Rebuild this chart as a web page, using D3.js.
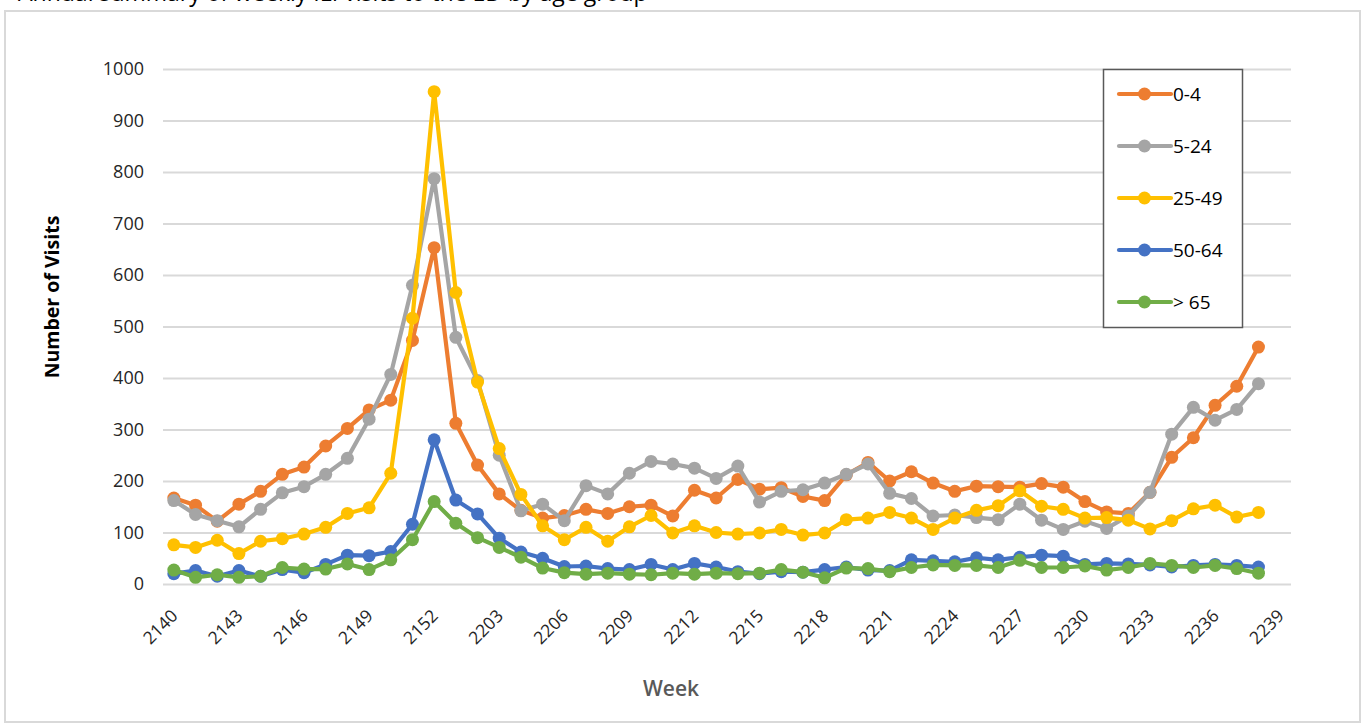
<!DOCTYPE html>
<html>
<head>
<meta charset="utf-8">
<script src="https://cdn.jsdelivr.net/npm/d3@7/dist/d3.min.js"></script>
<style>
  html, body { margin: 0; padding: 0; background: #ffffff; overflow: hidden; }
  svg { display: block; }
</style>
</head>
<body>
<svg id="chart" width="1366" height="725"></svg>
<script>
// ---- data ----
const weeks = [
  "2140","2141","2142","2143","2144","2145","2146","2147","2148","2149","2150","2151","2152",
  "2201","2202","2203","2204","2205","2206","2207","2208","2209","2210","2211","2212","2213",
  "2214","2215","2216","2217","2218","2219","2220","2221","2222","2223","2224","2225","2226",
  "2227","2228","2229","2230","2231","2232","2233","2234","2235","2236","2237","2238","2239"
];
const seriesNames = ["0-4", "5-24", "25-49", "50-64", "> 65"];
const age0_4 = [167,153,122,155,180,213,227,268,302,338,357,473,653,
  312,231,175,143,128,133,145,137,150,153,132,182,167,203,184,187,170,162,212,236,200,218,196,180,190,189,188,195,188,160,140,137,178,246,284,347,384,460];
const age5_24 = [162,135,123,111,145,177,189,213,244,320,407,580,787,
  479,395,250,142,155,123,191,175,215,238,233,225,205,229,159,180,183,196,213,233,176,166,132,134,129,125,155,124,106,122,108,132,178,291,343,318,339,389];
const age25_49 = [76,71,85,59,83,88,97,110,137,148,215,516,956,
  566,392,263,174,113,86,110,83,111,133,99,113,100,97,99,106,95,99,125,128,139,128,106,128,143,152,181,151,145,128,129,124,107,123,146,153,130,139];
const age50_64 = [20,26,15,26,15,28,22,38,56,55,63,116,280,
  163,136,89,62,50,34,35,30,28,38,28,40,33,24,20,24,23,28,33,27,26,47,45,43,51,47,52,56,54,38,40,39,37,33,36,38,36,33];
const age65 = [27,13,18,13,15,32,29,29,39,28,47,86,160,
  118,90,71,52,31,22,19,21,19,18,21,19,21,20,21,28,23,12,31,30,24,32,37,36,36,32,46,32,32,35,27,32,40,36,32,36,30,21];
const yTicks = [0,100,200,300,400,500,600,700,800,900,1000];
const colors = ["#ED7D31", "#A5A5A5", "#FFC000", "#4472C4", "#70AD47"];

const seriesValues = [age0_4, age5_24, age25_49, age50_64, age65];
const series = seriesNames.map((name, k) => ({
  name, color: colors[k],
  points: seriesValues[k].map((v, i) => ({ week: weeks[i], value: v }))
}));

// ---- layout ----
const svg = d3.select("#chart");
const plot = { left: 163, right: 1291, top: 69, bottom: 584 };
const FONT = "'Open Sans', Lato, 'DejaVu Sans', sans-serif";

// outer chart border
svg.append("rect")
  .attr("x", 5).attr("y", 11).attr("width", 1355).attr("height", 711)
  .attr("fill", "#ffffff").attr("stroke", "#d9d9d9").attr("stroke-width", 2);

// title, cut off by the top edge as in the source image
svg.append("text")
  .attr("x", 18).attr("y", 1)
  .attr("font-family", FONT).attr("font-size", 23)
  .attr("fill", "#000000")
  .text("Annual summary of weekly ILI visits to the ED by age group");

const x = d3.scaleBand().domain(weeks).range([plot.left, plot.right]);
const cx = d => x(d) + x.bandwidth() / 2;
const y = d3.scaleLinear().domain([0, 1000]).range([plot.bottom, plot.top]);

// y axis + gridlines
const yAxis = svg.append("g")
  .attr("transform", `translate(${plot.left},0)`)
  .call(d3.axisLeft(y).tickValues(yTicks).tickSize(-(plot.right - plot.left)).tickPadding(19).tickFormat(d3.format("d")));
yAxis.select(".domain").remove();
yAxis.selectAll(".tick line").attr("stroke", "#d9d9d9").attr("stroke-width", 2);
yAxis.selectAll(".tick text")
  .attr("font-family", FONT).attr("font-size", 18).attr("fill", "#262626");

// x axis labels
const xAxis = svg.append("g")
  .attr("transform", `translate(0,${plot.bottom})`)
  .call(d3.axisBottom(x).tickValues(weeks.filter((d, i) => i % 3 === 0)).tickSize(0));
xAxis.select(".domain").remove();
xAxis.selectAll(".tick text")
  .attr("font-family", FONT).attr("font-size", 17.5).attr("fill", "#262626")
  .attr("x", 0).attr("y", 0).attr("dy", 0)
  .attr("text-anchor", "end")
  .attr("transform", "translate(5,33) rotate(-45)");

// axis titles
svg.append("text")
  .attr("transform", "translate(59,297) rotate(-90)")
  .attr("text-anchor", "middle")
  .attr("font-family", FONT).attr("font-size", 19.5).attr("font-weight", "bold")
  .attr("fill", "#000000")
  .text("Number of Visits");
svg.append("text")
  .attr("x", 671).attr("y", 696)
  .attr("text-anchor", "middle")
  .attr("font-family", FONT).attr("font-size", 21).attr("font-weight", 600)
  .attr("fill", "#595959")
  .text("Week");

// series
const line = d3.line().x(d => cx(d.week)).y(d => y(d.value));
series.forEach(s => {
  const g = svg.append("g");
  g.append("path").datum(s.points)
    .attr("fill", "none").attr("stroke", s.color).attr("stroke-width", 4.2)
    .attr("stroke-linejoin", "round").attr("stroke-linecap", "round")
    .attr("d", line);
  g.selectAll("circle").data(s.points).join("circle")
    .attr("cx", d => cx(d.week)).attr("cy", d => y(d.value))
    .attr("r", 6.5).attr("fill", s.color);
});

// legend
const legend = svg.append("g");
legend.append("rect")
  .attr("x", 1103.5).attr("y", 69.5).attr("width", 139).attr("height", 258)
  .attr("fill", "#ffffff").attr("stroke", "#595959").attr("stroke-width", 1.5);
series.forEach((s, k) => {
  const ly = 94 + k * 52;
  const g = legend.append("g");
  g.append("line").attr("x1", 1119).attr("x2", 1171).attr("y1", ly).attr("y2", ly)
    .attr("stroke", s.color).attr("stroke-width", 4.2).attr("stroke-linecap", "round");
  g.append("circle").attr("cx", 1144.5).attr("cy", ly).attr("r", 6.5).attr("fill", s.color);
  g.append("text").attr("x", 1173).attr("y", ly).attr("dy", "0.36em")
    .attr("font-family", FONT).attr("font-size", 19).attr("fill", "#000000")
    .text(s.name);
});
</script>
</body>
</html>
